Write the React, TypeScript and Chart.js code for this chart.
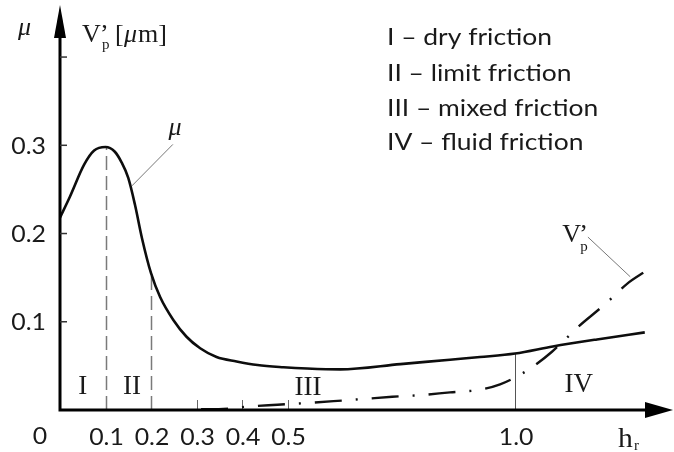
import React, { useEffect, useRef } from "react";
import { Chart, registerables } from "chart.js";

Chart.register(...registerables);

// friction coefficient μ vs relative film thickness h_r
const muHr = [0, 0.022, 0.053, 0.075, 0.1, 0.12, 0.135, 0.15, 0.165, 0.18, 0.2, 0.22, 0.249, 0.278, 0.308, 0.344, 0.388, 0.434, 0.491, 0.543, 0.616, 0.748, 0.857, 0.923, 1.0, 1.083, 1.18, 1.285];
const muVal = [0.218, 0.242, 0.278, 0.294, 0.298, 0.293, 0.281, 0.263, 0.232, 0.195, 0.155, 0.128, 0.102, 0.083, 0.07, 0.06, 0.055, 0.051, 0.0485, 0.047, 0.046, 0.052, 0.057, 0.06, 0.064, 0.072, 0.08, 0.088];

// wear V'p vs h_r
const vpHr = [0.31, 0.349, 0.414, 0.478, 0.544, 0.601, 0.667, 0.73, 0.796, 0.857, 0.923, 0.967, 1.011, 1.039, 1.081, 1.116, 1.138, 1.191, 1.217, 1.246, 1.289];
const vpVal = [0.001, 0.001, 0.004, 0.006, 0.008, 0.01, 0.0125, 0.015, 0.017, 0.02, 0.023, 0.029, 0.04, 0.049, 0.066, 0.083, 0.094, 0.117, 0.129, 0.143, 0.158];

const xTickValues = [0.1, 0.2, 0.3, 0.4, 0.5, 1.0];
const xTickLabels = ["0.1", "0.2", "0.3", "0.4", "0.5", "1.0"];
const yTickValues = [0.1, 0.2, 0.3, 0.4];
const yTickLabels = ["0.1", "0.2", "0.3", ""];

const guideHr = [0.1, 0.2, 1.0];
const guideTop = [0.298, 0.155, 0.064];
const guideDashed = [true, true, false];

const regionLabels = ["I", "II", "III", "IV"];
const regionHr = [0.05, 0.158, 0.545, 1.14];
const regionVal = [0.026, 0.026, 0.025, 0.029];

const legendLines = ["I – dry friction", "II – limit friction", "III – mixed friction", "IV – fluid friction"];

// leader annotations (data coords)
const muLeader = [0.248, 0.301, 0.158, 0.254];
const muLabelPos = [0.253, 0.312];
const vpLeader = [1.16, 0.196, 1.253, 0.151];
const vpLabelPos = [1.121, 0.19];

const SERIF = "'Liberation Serif', 'DejaVu Serif', serif";
const SANS = "Lato, 'Open Sans', sans-serif";
const INK = "#1a1a1a";

function stretchText(ctx: CanvasRenderingContext2D, text: string, x: number, y: number, sx: number, align: CanvasTextAlign) {
  ctx.save();
  ctx.translate(x, y);
  ctx.scale(sx, 1);
  ctx.textAlign = align;
  ctx.fillText(text, 0, 0);
  ctx.restore();
}

const decor = {
  id: "decor",
  beforeDatasetsDraw(chart: any) {
    const { ctx } = chart;
    const xs = chart.scales.x;
    const ys = chart.scales.y;
    ctx.save();
    guideHr.forEach((h, i) => {
      const px = Math.round(xs.getPixelForValue(h)) + 0.5;
      ctx.beginPath();
      ctx.strokeStyle = guideDashed[i] ? "#7a7a7a" : "#555";
      ctx.lineWidth = guideDashed[i] ? 1.5 : 1;
      ctx.setLineDash(guideDashed[i] ? [14, 6] : []);
      ctx.moveTo(px, ys.getPixelForValue(0));
      ctx.lineTo(px, ys.getPixelForValue(guideTop[i]));
      ctx.stroke();
    });
    ctx.setLineDash([]);
    ctx.strokeStyle = "#666";
    ctx.lineWidth = 1;
    [0.3, 0.4, 0.5].forEach((h) => {
      const px = Math.round(xs.getPixelForValue(h)) + 0.5;
      ctx.beginPath();
      ctx.moveTo(px, ys.getPixelForValue(0));
      ctx.lineTo(px, ys.getPixelForValue(0) - 10);
      ctx.stroke();
    });
    ctx.restore();
  },
  afterDatasetsDraw(chart: any) {
    const { ctx, chartArea } = chart;
    const xs = chart.scales.x;
    const ys = chart.scales.y;
    const x0 = xs.getPixelForValue(0);
    const y0 = ys.getPixelForValue(0);
    ctx.save();
    // axes
    ctx.strokeStyle = "#000";
    ctx.fillStyle = "#000";
    ctx.lineWidth = 3;
    ctx.beginPath();
    ctx.moveTo(x0, y0 + 1.5);
    ctx.lineTo(x0, chartArea.top + 30);
    ctx.moveTo(x0 - 1.5, y0);
    ctx.lineTo(chartArea.right - 26, y0);
    ctx.stroke();
    // arrows
    ctx.beginPath();
    ctx.moveTo(x0, chartArea.top);
    ctx.lineTo(x0 - 6, chartArea.top + 33);
    ctx.lineTo(x0 + 6, chartArea.top + 33);
    ctx.closePath();
    ctx.fill();
    ctx.beginPath();
    ctx.moveTo(chartArea.right, y0);
    ctx.lineTo(chartArea.right - 28, y0 - 8);
    ctx.lineTo(chartArea.right - 28, y0 + 8);
    ctx.closePath();
    ctx.fill();
    // y ticks
    ctx.lineWidth = 1.5;
    ctx.strokeStyle = "#333";
    yTickValues.forEach((v) => {
      const py = ys.getPixelForValue(v);
      ctx.beginPath();
      ctx.moveTo(x0, py);
      ctx.lineTo(x0 + 7, py);
      ctx.stroke();
    });
    // tick labels
    ctx.fillStyle = INK;
    ctx.font = `23px ${SANS}`;
    ctx.textBaseline = "middle";
    yTickValues.forEach((v, i) => {
      if (yTickLabels[i]) stretchText(ctx, yTickLabels[i], x0 - 14, ys.getPixelForValue(v) + 1, 1.08, "right");
    });
    ctx.textBaseline = "alphabetic";
    xTickValues.forEach((h, i) => {
      stretchText(ctx, xTickLabels[i], xs.getPixelForValue(h) + 1, y0 + 35, 1.08, "center");
    });
    stretchText(ctx, "0", x0 - 20, y0 + 34, 1.08, "center");
    // axis titles
    ctx.textAlign = "left";
    ctx.font = `italic 26px ${SERIF}`;
    ctx.fillText("μ", 18, 35);
    ctx.font = `26px ${SERIF}`;
    ctx.fillText("V", 82, 42);
    ctx.fillText("’", 100, 42);
    ctx.font = `15px ${SERIF}`;
    ctx.fillText("p", 102, 49);
    ctx.font = `26px ${SERIF}`;
    ctx.fillText("[", 115, 42);
    ctx.font = `italic 26px ${SERIF}`;
    ctx.fillText("μ", 124, 42);
    ctx.font = `26px ${SERIF}`;
    ctx.fillText("m]", 138, 42);
    // h_r
    ctx.font = `27px ${SERIF}`;
    stretchText(ctx, "h", 618, y0 + 37, 1.1, "left");
    ctx.font = `15px ${SERIF}`;
    ctx.fillText("r", 634, y0 + 40);
    // region labels
    ctx.font = `27px ${SERIF}`;
    ctx.textAlign = "center";
    ctx.textBaseline = "middle";
    regionLabels.forEach((t, i) => {
      ctx.fillText(t, xs.getPixelForValue(regionHr[i]), ys.getPixelForValue(regionVal[i]));
    });
    // leaders
    ctx.strokeStyle = "#777";
    ctx.lineWidth = 1;
    ctx.beginPath();
    ctx.moveTo(xs.getPixelForValue(muLeader[0]), ys.getPixelForValue(muLeader[1]));
    ctx.lineTo(xs.getPixelForValue(muLeader[2]), ys.getPixelForValue(muLeader[3]));
    ctx.moveTo(xs.getPixelForValue(vpLeader[0]), ys.getPixelForValue(vpLeader[1]));
    ctx.lineTo(xs.getPixelForValue(vpLeader[2]), ys.getPixelForValue(vpLeader[3]));
    ctx.stroke();
    ctx.textBaseline = "alphabetic";
    ctx.textAlign = "center";
    ctx.font = `italic 26px ${SERIF}`;
    ctx.fillText("μ", xs.getPixelForValue(muLabelPos[0]), ys.getPixelForValue(muLabelPos[1]));
    const vx = xs.getPixelForValue(vpLabelPos[0]);
    const vy = ys.getPixelForValue(vpLabelPos[1]);
    ctx.textAlign = "left";
    ctx.font = `26px ${SERIF}`;
    ctx.fillText("V", vx - 8, vy);
    ctx.fillText("’", vx + 9, vy);
    ctx.font = `15px ${SERIF}`;
    ctx.fillText("p", vx + 10, vy + 9);
    // legend
    ctx.font = `23px ${SANS}`;
    ctx.fillStyle = INK;
    const baselines = [45, 81, 116, 150];
    legendLines.forEach((t, i) => stretchText(ctx, t, 387, baselines[i], 1.15, "left"));
    ctx.restore();
  },
};

export default function App() {
  const ref = useRef<HTMLCanvasElement | null>(null);
  useEffect(() => {
    if (!ref.current) return;
    const chart = new Chart(ref.current, {
      type: "line",
      data: {
        datasets: [
          {
            label: "μ",
            data: muHr.map((h, i) => ({ x: h, y: muVal[i] })),
            borderColor: "#0d0d0d",
            borderWidth: 2.6,
            pointRadius: 0,
            cubicInterpolationMode: "monotone",
            fill: false,
          },
          {
            label: "V'p",
            data: vpHr.map((h, i) => ({ x: h, y: vpVal[i] })),
            borderColor: "#111",
            borderWidth: 2.4,
            borderDash: [27, 14, 2, 14],
            pointRadius: 0,
            cubicInterpolationMode: "monotone",
            fill: false,
          },
        ],
      },
      options: {
        responsive: false,
        animation: false,
        devicePixelRatio: 1,
        layout: { padding: { left: 60, right: 1, top: 5, bottom: 42 } },
        scales: {
          x: { type: "linear", min: 0, max: 1.347, display: false },
          y: { type: "linear", min: 0, max: 0.459, display: false },
        },
        plugins: { legend: { display: false }, tooltip: { enabled: false } },
      },
      plugins: [decor],
    } as any);
    return () => chart.destroy();
  }, []);
  return (
    <div style={{ position: "fixed", left: 0, top: 0, width: 674, height: 452, background: "#fff" }}>
      <canvas ref={ref} width={674} height={452} style={{ display: "block", width: 674, height: 452 }} />
    </div>
  );
}
